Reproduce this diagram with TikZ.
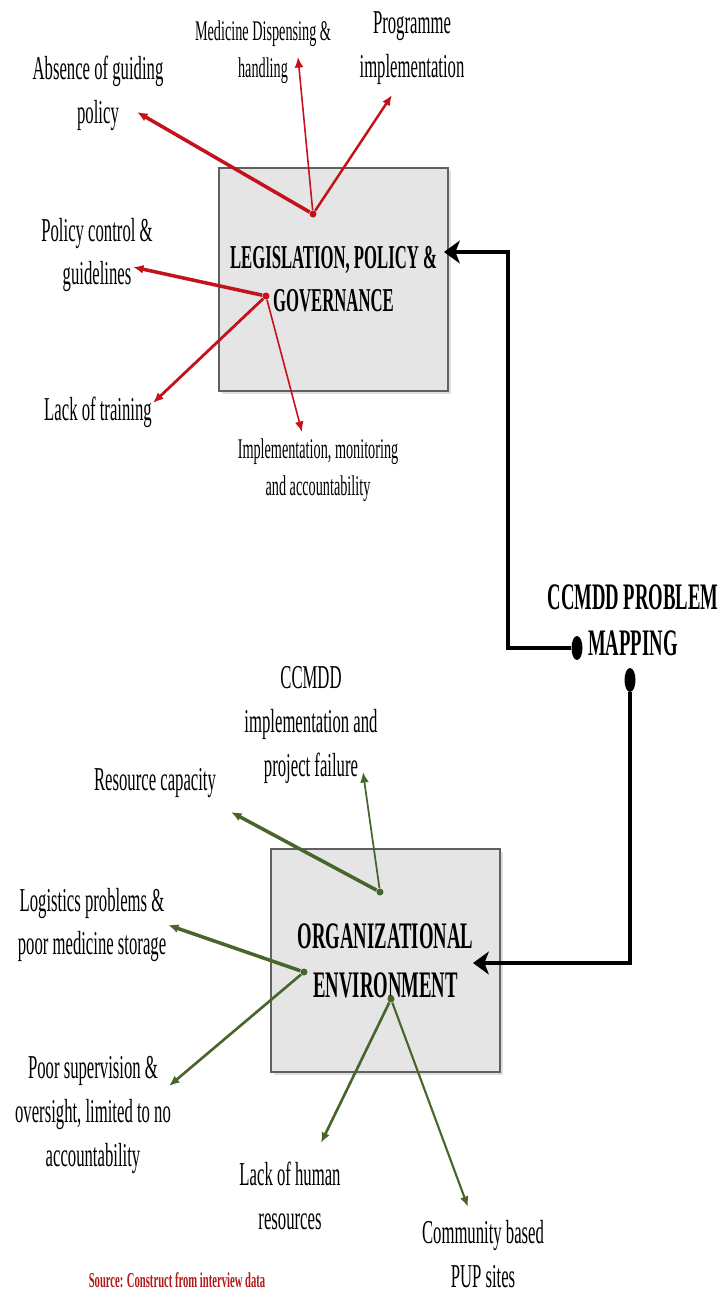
\documentclass[tikz,border=0pt]{standalone}
\usepackage{fontspec}
\setmainfont{Liberation Serif}[FakeStretch=0.5]
\usetikzlibrary{arrows.meta,shapes.geometric,shadows}
\definecolor{arrred}{RGB}{196,18,26}
\definecolor{arrgreen}{RGB}{72,102,44}
\definecolor{boxgray}{RGB}{229,229,229}
\definecolor{srcred}{RGB}{176,26,26}
\begin{document}
\begin{tikzpicture}[x=0.02cm,y=-0.02cm,
  lbl/.style={align=center,inner sep=0pt,font=\fontsize{19}{25}\selectfont},
  small/.style={align=center,inner sep=0pt,font=\fontsize{16.2}{21}\selectfont},
  area/.style={draw=gray!75!black,line width=1pt,fill=boxgray,minimum width=4.58cm,minimum height=4.46cm,
    align=center,drop shadow={opacity=.25,shadow xshift=1.5pt,shadow yshift=-1.5pt}},
  hub/.style={circle,inner sep=0pt,minimum size=4pt},
  rarr/.style={arrred,-{Latex[length=6pt,width=5pt]}},
  garr/.style={arrgreen,-{Latex[length=6pt,width=5pt]}},
  link/.style={line width=2.5pt,-{Stealth[length=9pt,width=13pt,inset=2.5pt]}},
  knob/.style={ellipse,fill=black,inner sep=0pt,minimum width=.22cm,minimum height=.48cm}]
\useasboundingbox (0,0) rectangle (725,1296);
% the two blocks
\node[area,font=\bfseries\fontsize{19}{24.5}\selectfont] (leg) at (333.5,279.5) {LEGISLATION, POLICY \&\\GOVERNANCE};
\node[area,font=\bfseries\fontsize{21.3}{28}\selectfont] (org) at (385.5,960.5) {ORGANIZATIONAL\\ENVIRONMENT};
% legislation problems
\node[hub,fill=arrred] (h1) at (313,214) {};\node[hub,fill=arrred] (h2) at (266,296) {};
\node[lbl] (absence) at (98,93) {Absence of guiding\\policy};
\node[small] (dispense) at (263,52) {Medicine Dispensing \&\\handling};
\node[lbl] (programme) at (412,48) {Programme\\implementation};
\node[lbl] (control) at (97,255) {Policy control \&\\guidelines};
\node[lbl] (training) at (98,412) {Lack of training};
\node[small] (monitor) at (318,470) {Implementation, monitoring\\and accountability};
\coordinate (absenceT) at (137,112);\coordinate (dispenseT) at (298,57);
\coordinate (programmeT) at (392,95);\coordinate (controlT) at (133,267);
\coordinate (trainingT) at (153,403);\coordinate (monitorT) at (302,432);
\draw[rarr,line width=2pt] (h1) -- (absenceT);
\draw[rarr,line width=.9pt] (h1) -- (dispenseT);
\draw[rarr,line width=1.4pt] (h1) -- (programmeT);
\draw[rarr,line width=2pt] (h2) -- (controlT);
\draw[rarr,line width=1.6pt] (h2) -- (trainingT);
\draw[rarr,line width=.9pt] (h2) -- (monitorT);
% problem mapping and links
\node[font=\bfseries\fontsize{21.3}{26}\selectfont,align=center] (map) at (633,620) {CCMDD PROBLEM\\MAPPING};
\node[knob] (knobA) at (577,648) {};\node[knob] (knobB) at (630,680) {};
\coordinate (bendA) at (508,252);\coordinate (legT) at (444,252);
\coordinate (orgT) at (473,963);
\draw[link] (knobA) -| (bendA) -- (legT);
\draw[link] (knobB) |- (orgT);
% organizational problems
\node[hub,fill=arrgreen] (g1) at (380,892) {};\node[hub,fill=arrgreen] (g2) at (304,972) {};
\node[hub,fill=arrgreen] (g3) at (391,999) {};
\node[lbl] (failure) at (311,725) {CCMDD\\implementation and\\project failure};
\node[lbl] (capacity) at (155,783) {Resource capacity};
\node[lbl] (logistics) at (92,925) {Logistics problems \&\\poor medicine storage};
\node[lbl] (supervision) at (93,1115) {Poor supervision \&\\oversight, limited to no\\accountability};
\node[lbl] (human) at (290,1196) {Lack of human\\resources};
\node[lbl] (community) at (483,1254) {Community based\\PUP sites};
\coordinate (failureT) at (363,772);\coordinate (capacityT) at (231,812);
\coordinate (logisticsT) at (168,925);\coordinate (supervisionT) at (169,1086);
\coordinate (humanT) at (321,1143);\coordinate (communityT) at (468,1207);
\draw[garr,line width=1pt] (g1) -- (failureT);
\draw[garr,line width=2pt] (g1) -- (capacityT);
\draw[garr,line width=2pt] (g2) -- (logisticsT);
\draw[garr,line width=1.5pt] (g2) -- (supervisionT);
\draw[garr,line width=1.5pt] (g3) -- (humanT);
\draw[garr,line width=1.2pt] (g3) -- (communityT);
\node[font=\bfseries\fontsize{12.1}{14}\selectfont,text=srcred] (source) at (177,1280) {Source: Construct from interview data};
\end{tikzpicture}
\end{document}
